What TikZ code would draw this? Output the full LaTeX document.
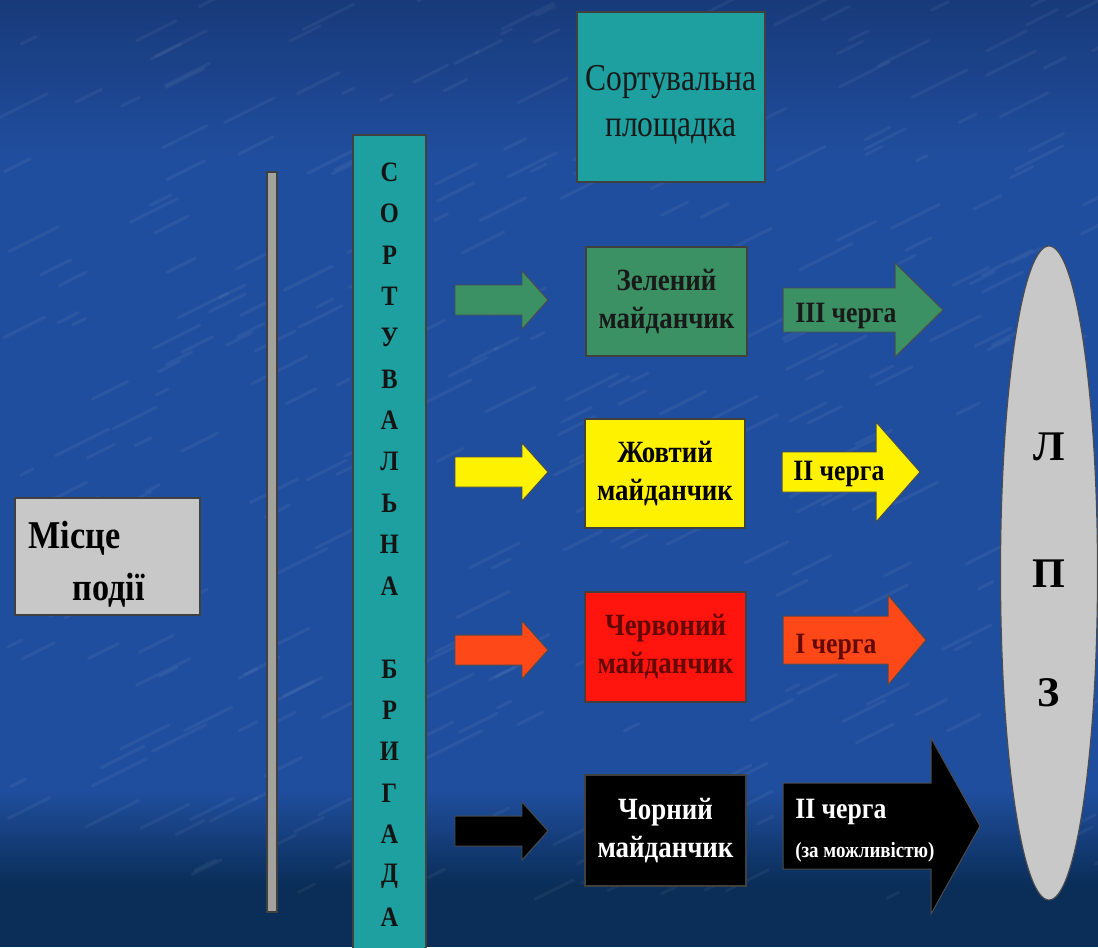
\documentclass[tikz,border=0pt]{standalone}
\usepackage{fontspec}
\setmainfont{Liberation Serif}
\newfontfamily\condf[FakeStretch=0.87]{Liberation Serif}
\newfontfamily\condt[FakeStretch=0.83]{Liberation Serif}
\usetikzlibrary{shapes.geometric}
\definecolor{bgtop}{RGB}{24,58,122}
\definecolor{bgmid}{RGB}{32,78,158}
\definecolor{bgbot}{RGB}{10,46,88}
\definecolor{tealbox}{RGB}{30,160,160}
\definecolor{greenbox}{RGB}{60,145,100}
\definecolor{redbox}{RGB}{255,20,14}
\definecolor{orangearr}{RGB}{255,72,24}
\definecolor{greybox}{RGB}{200,200,200}
\definecolor{greybar}{RGB}{165,162,158}
\definecolor{darkred}{RGB}{100,8,4}
\newcommand\pxu{0.025cm}
\newcommand\blkarrow[7]{%
  \path[#7] (#1,#4-#5) -- (#2,#4-#5) -- (#2,#4-#6) -- (#3,#4) -- (#2,#4+#6) -- (#2,#4+#5) -- (#1,#4+#5) -- cycle;}
\tikzset{
  box/.style={draw=black!75, line width=0.8pt, inner sep=0pt},
  boxtext/.style={align=center, inner sep=0pt, font=\condf\bfseries\fontsize{22}{27}\selectfont},
  arrtext/.style={anchor=west, inner sep=0pt, font=\condf\bfseries\fontsize{21}{25}\selectfont},
  blk/.style={draw=black!70, line width=0.7pt, fill=#1},
  vletter/.style={inner sep=0pt, font=\condf\bfseries\fontsize{20}{20}\selectfont, text=black!92},
}
\begin{document}
\begin{tikzpicture}[x=0.025cm,y=-0.025cm]
\useasboundingbox (0,0) rectangle (1098,947);
\fill[bgmid] (0,0) rectangle (1098,947);
\shade[top color=bgtop, bottom color=bgmid] (0,0) rectangle (1098,160);
\shade[top color=bgmid, bottom color=bgbot] (0,790) rectangle (1098,885);
\fill[bgbot] (0,885) rectangle (1098,947);
% texture
\pgfmathsetseed{7}
\foreach \k in {1,...,320}{
  \pgfmathsetmacro\xa{rnd*1098}
  \pgfmathsetmacro\ya{rnd*900}
  \pgfmathsetmacro\ll{10+rnd*45}
  \draw[white, opacity=0.05, line width=2.2pt, line cap=round] (\xa,\ya) -- ++(\ll,-0.5*\ll);
}
% top box
\node[box, fill=tealbox, minimum width=188*\pxu, minimum height=170*\pxu] (sortbox) at (671,97) {};
\node[align=center, inner sep=0pt, text=black!90, font=\condt\fontsize{27}{33}\selectfont] (sorttext) at (671,105) {Сортувальна\\площадка};
% grey bar
\node[box, fill=greybar, minimum width=10*\pxu, minimum height=740*\pxu] (bar) at (272,542) {};
% vertical teal bar
\node[box, fill=tealbox, minimum width=73*\pxu, minimum height=815*\pxu] (brig) at (389.5,542.5) {};
\foreach \ch [count=\i] in {С,О,Р,Т,У,В,А,Л,Ь,Н,А,,Б,Р,И,Г,А,Д,А}{
  \node[vletter] (v\i) at (389.5,172+41.4*\i-41.4) {\ch};
}
% place of event
\node[box, fill=greybox, minimum width=185*\pxu, minimum height=117*\pxu] (misce) at (107.5,556.5) {};
\node[anchor=base west, inner sep=0pt, font=\condf\bfseries\fontsize{28}{30}\selectfont] (misce1) at (28,548) {Місце};
\node[anchor=base west, inner sep=0pt, font=\condf\bfseries\fontsize{28}{30}\selectfont] (misce2) at (72,600) {події};
% left arrows
\blkarrow{455}{522}{548}{300}{15}{29}{blk=greenbox}
\blkarrow{455}{522}{548}{472}{15}{29}{blk=yellow}
\blkarrow{455}{522}{548}{650}{15}{29}{blk=orangearr}
\blkarrow{455}{522}{548}{831}{15}{29}{blk=black}
% boxes
\node[box, fill=greenbox, minimum width=161*\pxu, minimum height=109*\pxu, boxtext, text=black!90] (green) at (666.5,301.5) {Зелений\\майданчик};
\node[box, fill=yellow, minimum width=160*\pxu, minimum height=109*\pxu, boxtext, text=black] (yellowb) at (665,473.5) {Жовтий\\майданчик};
\node[box, fill=redbox, minimum width=161*\pxu, minimum height=110*\pxu, boxtext, text=darkred] (red) at (665.5,647) {Червоний\\майданчик};
\node[box, fill=black, minimum width=161*\pxu, minimum height=111*\pxu, boxtext, text=white] (blackb) at (665.5,830.5) {Чорний\\майданчик};
% right arrows
\blkarrow{783}{895}{943}{310}{22}{47}{blk=greenbox}
\blkarrow{782}{876}{920}{472}{20}{50}{blk=yellow}
\blkarrow{783}{888}{926}{640}{24}{45}{blk=orangearr}
\blkarrow{783}{931}{980}{826}{43}{88}{blk=black}
\node[arrtext, text=black!90] (q3) at (795,316) {III черга};
\node[arrtext, text=black] (q2) at (793,474) {II черга};
\node[arrtext, text=darkred] (q1) at (795,647) {I черга};
\node[arrtext, text=white] (q2b) at (795,812) {II черга};
\node[anchor=west, inner sep=0pt, text=white, font=\condf\bfseries\fontsize{15.5}{17}\selectfont] (q2c) at (795,852) {(за можливістю)};
% ellipse
\node[ellipse, draw=black!70, line width=0.8pt, fill=greybox, minimum width=97*\pxu, minimum height=654*\pxu, inner sep=0pt] (lpz) at (1049,573) {};
\node[inner sep=0pt, font=\bfseries\fontsize{30}{30}\selectfont] (l1) at (1049,447) {Л};
\node[inner sep=0pt, font=\bfseries\fontsize{30}{30}\selectfont] (l2) at (1049,574) {П};
\node[inner sep=0pt, font=\bfseries\fontsize{30}{30}\selectfont] (l3) at (1049,693) {З};
\end{tikzpicture}
\end{document}
